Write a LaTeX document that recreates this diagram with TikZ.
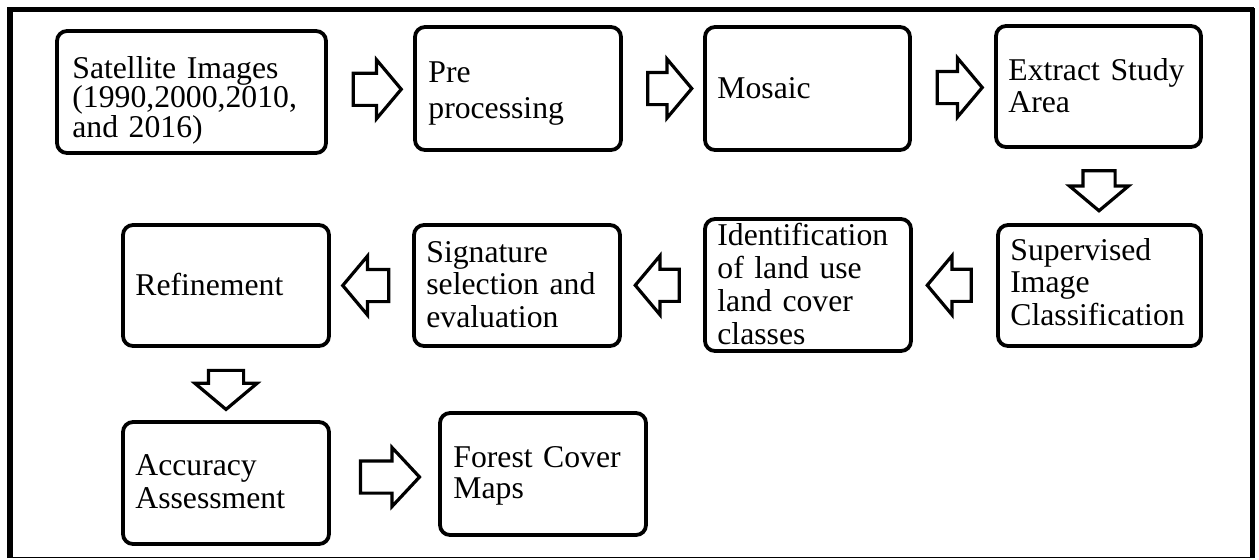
\documentclass[tikz,border=0pt]{standalone}
\usepackage{fontspec}
\setmainfont{Liberation Serif}
\usetikzlibrary{shapes.arrows,calc}
\begin{document}
\begin{tikzpicture}[x=0.5pt,y=-0.5pt,
  box/.style={draw, line width=1.9pt, rounded corners=5pt, inner sep=0pt},
  lbl/.style={anchor=base west, inner sep=0pt, align=left, text width=96pt},
  blockarrow/.style={single arrow, draw, line width=1.6pt, inner sep=0pt,
    inner ysep=7.25pt, minimum width=28pt, single arrow head extend=6.75pt,
    single arrow tip angle=100},
  frame/.style={line width=2.7pt}]
\useasboundingbox (0,0) rectangle (1259,559);
% outer frame
\draw[frame] (10,558) -- (10,9.5) -- (1254,9.5);
\draw[line width=2.5pt] (1252.5,8) -- (1252.5,558);
\draw[line width=0.9pt] (8,557.5) -- (1254,557.5);
% boxes
\node[box, minimum width=134.5pt, minimum height=61pt] (sat) at (191.5,92) {};
\node[box, minimum width=103pt, minimum height=61.5pt] (pre) at (518,88.5) {};
\node[box, minimum width=102.5pt, minimum height=61.5pt] (mos) at (807.5,88.5) {};
\node[box, minimum width=102.5pt, minimum height=60.5pt] (ext) at (1098.5,86.5) {};
\node[box, minimum width=101.5pt, minimum height=60.5pt] (sup) at (1099.5,285.5) {};
\node[box, minimum width=103pt, minimum height=66pt] (ide) at (808,285) {};
\node[box, minimum width=103pt, minimum height=60.5pt] (sig) at (517,285.5) {};
\node[box, minimum width=103pt, minimum height=60.5pt] (ref) at (226,285.5) {};
\node[box, minimum width=103pt, minimum height=61pt] (acc) at (226,483) {};
\node[box, minimum width=103pt, minimum height=61pt] (for) at (543,474) {};
% texts
\node[lbl, text width=125pt, font=\fontsize{15.85}{14.75}\selectfont] (satT) at (72,78) {Satellite Images\\(1990,2000,2010,\\and 2016)};
\node[lbl, font=\fontsize{15.85}{18}\selectfont] (preT) at (428,82) {Pre\\processing};
\node[lbl, font=\fontsize{15.85}{16.5}\selectfont] (mosT) at (717,98) {Mosaic};
\node[lbl, font=\fontsize{15.85}{16}\selectfont] (extT) at (1008,80) {Extract Study\\Area};
\node[lbl, font=\fontsize{15.85}{16.25}\selectfont] (supT) at (1010,260) {Supervised\\Image\\Classification};
\node[lbl, font=\fontsize{15.85}{16.5}\selectfont] (ideT) at (717,245) {Identification\\of land use\\land cover\\classes};
\node[lbl, font=\fontsize{15.85}{16.25}\selectfont] (sigT) at (426,262) {Signature\\selection and\\evaluation};
\node[lbl, font=\fontsize{15.85}{16.5}\selectfont] (refT) at (135,295) {Refinement};
\node[lbl, font=\fontsize{15.85}{16.5}\selectfont] (accT) at (135,475) {Accuracy\\Assessment};
\node[lbl, font=\fontsize{15.85}{15.5}\selectfont] (forT) at (453,467) {Forest Cover\\Maps};
% block arrows
\node[blockarrow, minimum height=24pt] (a1) at ($(sat.east)!0.5!(pre.west)+(0,-1)$) {};
\node[blockarrow, minimum height=22pt] (a2) at ($(pre.east)!0.5!(mos.west)$) {};
\node[blockarrow, minimum height=22.5pt] (a3) at ($(mos.east)!0.5!(ext.west)$) {};
\node[blockarrow, minimum height=20pt, rotate=-90] (a4) at ($(ext.south)!0.5!(sup.north)+(0,-2)$) {};
\node[blockarrow, minimum height=22pt, rotate=180] (a5) at ($(sup.west)!0.5!(ide.east)+(1.5,0)$) {};
\node[blockarrow, minimum height=22pt, rotate=180] (a6) at ($(ide.west)!0.5!(sig.east)+(1.5,0)$) {};
\node[blockarrow, minimum height=23pt, rotate=180] (a7) at ($(sig.west)!0.5!(ref.east)+(1,0)$) {};
\node[blockarrow, minimum height=19.5pt, minimum width=29.5pt, inner ysep=8pt, single arrow head extend=6.75pt, rotate=-90] (a8) at ($(ref.south)!0.5!(acc.north)+(0,-1.5)$) {};
\node[blockarrow, minimum height=29.5pt, single arrow tip angle=94] (a9) at ($(acc.east)!0.5!(for.west)+(-2,-1.5)$) {};
\end{tikzpicture}
\end{document}
